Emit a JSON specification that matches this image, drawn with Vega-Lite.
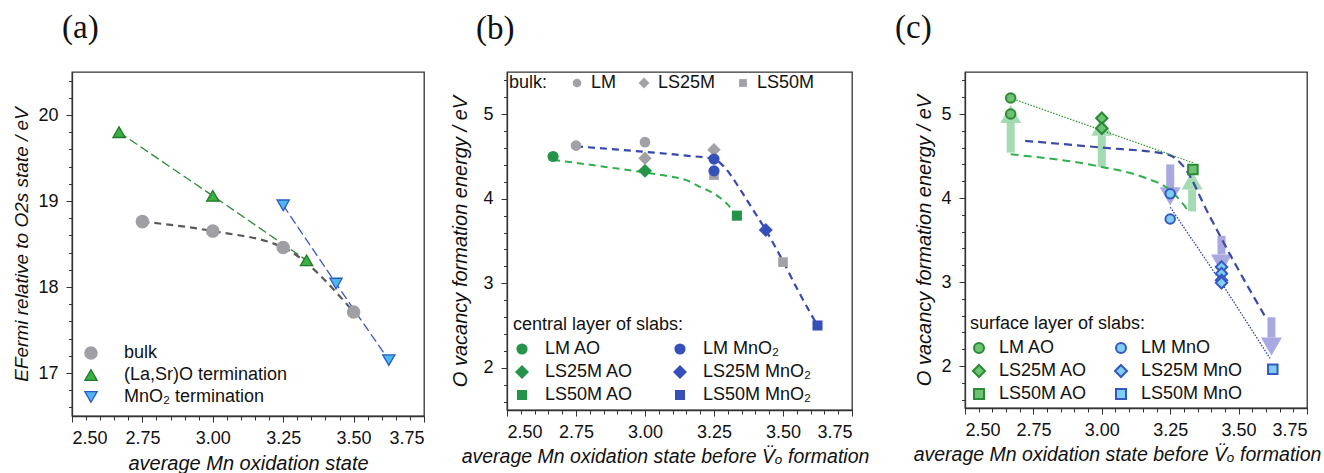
{
  "$schema": "https://vega.github.io/schema/vega-lite/v6.json",
  "padding": {"left": 12, "top": 11, "right": 5, "bottom": 3},
  "spacing": 24,
  "config": {
    "font": "Liberation Sans",
    "view": {"stroke": "#333333", "strokeWidth": 1.3},
    "axis": {"grid": false, "labelFontSize": 18, "labelColor": "#111111", "titleFontSize": 20, "titleFontStyle": "italic", "titleFontWeight": "normal", "titleColor": "#111111", "domainColor": "#333333", "domainWidth": 1.3, "tickColor": "#333333", "tickWidth": 1, "tickSize": 6},
    "legend": {"labelFontSize": 18, "titleFontSize": 18, "titleFontWeight": "normal", "labelColor": "#111111", "titleColor": "#111111", "titleLimit": 400, "labelLimit": 300},
    "title": {"font": "Liberation Serif", "fontSize": 33, "fontWeight": "normal", "anchor": "start", "color": "#111111", "frame": "group", "baseline": "alphabetic"}
  },
  "datasets": {
    "a": [
      {"x": 2.75, "y": 18.76, "series": "bulk"},
      {"x": 3.0, "y": 18.65, "series": "bulk"},
      {"x": 3.25, "y": 18.46, "series": "bulk"},
      {"x": 3.5, "y": 17.71, "series": "bulk"},
      {"x": 2.667, "y": 19.8, "series": "(La,Sr)O termination"},
      {"x": 3.0, "y": 19.06, "series": "(La,Sr)O termination"},
      {"x": 3.333, "y": 18.31, "series": "(La,Sr)O termination"},
      {"x": 3.25, "y": 18.95, "series": "MnO₂ termination"},
      {"x": 3.4375, "y": 18.04, "series": "MnO₂ termination"},
      {"x": 3.625, "y": 17.15, "series": "MnO₂ termination"}
    ],
    "b_bulk": [
      {"x": 2.75, "y": 4.63, "sample": "LM"},
      {"x": 3.0, "y": 4.67, "sample": "LM"},
      {"x": 3.0, "y": 4.48, "sample": "LS25M"},
      {"x": 3.25, "y": 4.58, "sample": "LS25M"},
      {"x": 3.25, "y": 4.28, "sample": "LS50M"},
      {"x": 3.5, "y": 3.25, "sample": "LS50M"}
    ],
    "b_slab": [
      {"x": 2.667, "y": 4.5, "series": "LM AO"},
      {"x": 3.0, "y": 4.33, "series": "LS25M AO"},
      {"x": 3.333, "y": 3.8, "series": "LS50M AO"},
      {"x": 3.25, "y": 4.47, "series": "LM MnO₂"},
      {"x": 3.25, "y": 4.33, "series": "LM MnO₂"},
      {"x": 3.4375, "y": 3.63, "series": "LS25M MnO₂"},
      {"x": 3.625, "y": 2.5, "series": "LS50M MnO₂"}
    ],
    "b_curve": [
      {"x": 2.667, "y": 4.46, "curve": "green"},
      {"x": 3.0, "y": 4.31, "curve": "green"},
      {"x": 3.08, "y": 4.27, "curve": "green"},
      {"x": 3.15, "y": 4.22, "curve": "green"},
      {"x": 3.2, "y": 4.14, "curve": "green"},
      {"x": 3.25, "y": 4.06, "curve": "green"},
      {"x": 3.3, "y": 3.93, "curve": "green"},
      {"x": 3.333, "y": 3.8, "curve": "green"},
      {"x": 2.75, "y": 4.62, "curve": "blue"},
      {"x": 3.0, "y": 4.555, "curve": "blue"},
      {"x": 3.15, "y": 4.51, "curve": "blue"},
      {"x": 3.25, "y": 4.47, "curve": "blue"},
      {"x": 3.286, "y": 4.38, "curve": "blue"},
      {"x": 3.347, "y": 4.1, "curve": "blue"},
      {"x": 3.395, "y": 3.85, "curve": "blue"},
      {"x": 3.4375, "y": 3.63, "curve": "blue"},
      {"x": 3.5, "y": 3.26, "curve": "blue"},
      {"x": 3.56, "y": 2.88, "curve": "blue"},
      {"x": 3.625, "y": 2.5, "curve": "blue"}
    ],
    "c_pts": [
      {"x": 2.667, "y": 5.19, "series": "LM AO"},
      {"x": 2.667, "y": 5.0, "series": "LM AO"},
      {"x": 3.0, "y": 4.95, "series": "LS25M AO"},
      {"x": 3.0, "y": 4.83, "series": "LS25M AO"},
      {"x": 3.333, "y": 4.34, "series": "LS50M AO"},
      {"x": 3.25, "y": 4.05, "series": "LM MnO"},
      {"x": 3.25, "y": 3.75, "series": "LM MnO"},
      {"x": 3.4375, "y": 3.18, "series": "LS25M MnO"},
      {"x": 3.4375, "y": 3.1, "series": "LS25M MnO"},
      {"x": 3.4375, "y": 3.02, "series": "LS25M MnO"},
      {"x": 3.4375, "y": 2.99, "series": "LS25M MnO"},
      {"x": 3.625, "y": 1.96, "series": "LS50M MnO"}
    ],
    "c_lines": [
      {"x": 2.667, "y": 4.52, "line": "green dashed"},
      {"x": 3.0, "y": 4.37, "line": "green dashed"},
      {"x": 3.15, "y": 4.25, "line": "green dashed"},
      {"x": 3.25, "y": 4.09, "line": "green dashed"},
      {"x": 3.297, "y": 3.93, "line": "green dashed"},
      {"x": 3.315, "y": 3.85, "line": "green dashed"},
      {"x": 2.72, "y": 4.68, "line": "blue dashed"},
      {"x": 3.0, "y": 4.6, "line": "blue dashed"},
      {"x": 3.24, "y": 4.52, "line": "blue dashed"},
      {"x": 3.3, "y": 4.37, "line": "blue dashed"},
      {"x": 3.39, "y": 3.81, "line": "blue dashed"},
      {"x": 3.48, "y": 3.26, "line": "blue dashed"},
      {"x": 3.595, "y": 2.6, "line": "blue dashed"},
      {"x": 2.667, "y": 5.19, "line": "green dotted"},
      {"x": 3.333, "y": 4.42, "line": "green dotted"},
      {"x": 3.25, "y": 3.89, "line": "blue dotted"},
      {"x": 3.4375, "y": 2.99, "line": "blue dotted"},
      {"x": 3.615, "y": 2.09, "line": "blue dotted"}
    ],
    "c_arrows": [
      {"x": 2.667, "tail": 4.54, "neck": 4.9, "head": 5.0, "dir": "up"},
      {"x": 3.0, "tail": 4.37, "neck": 4.74, "head": 4.85, "dir": "up"},
      {"x": 3.33, "tail": 3.84, "neck": 4.1, "head": 4.21, "dir": "up"},
      {"x": 3.25, "tail": 4.4, "neck": 4.12, "head": 4.02, "dir": "down"},
      {"x": 3.4375, "tail": 3.55, "neck": 3.33, "head": 3.22, "dir": "down"},
      {"x": 3.62, "tail": 2.58, "neck": 2.34, "head": 2.23, "dir": "down"}
    ]
  },
  "hconcat": [
    {
      "width": 352,
      "height": 344,
      "title": {"text": "(a)", "dx": -10, "offset": 27},
      "resolve": {"axis": {"x": "independent", "y": "independent"}, "scale": {"shape": "independent", "fill": "independent", "stroke": "independent"}},
      "layer": [
        {
          "data": {"name": "a"},
          "mark": {"type": "point", "opacity": 0},
          "encoding": {
            "x": {"field": "x", "type": "quantitative", "scale": {"domain": [2.5, 3.75], "nice": false, "zero": false}, "axis": {"orient": "bottom", "values": [2.5,2.55,2.6,2.65,2.7,2.75,2.8,2.85,2.9,2.95,3,3.05,3.1,3.15,3.2,3.25,3.3,3.35,3.4,3.45,3.5,3.55,3.6,3.65,3.7,3.75], "labels": false, "domain": false, "tickSize": 4, "title": null}},
            "y": {"field": "y", "type": "quantitative", "scale": {"domain": [16.5, 20.5], "nice": false, "zero": false}, "axis": {"orient": "left", "values": [16.6,16.8,17,17.2,17.4,17.6,17.8,18,18.2,18.4,18.6,18.8,19,19.2,19.4,19.6,19.8,20,20.2,20.4], "labels": false, "domain": false, "tickSize": 3.5, "title": null}}
          }
        },
        {
          "data": {"name": "a"},
          "transform": [{"filter": "datum.series === 'bulk'"}],
          "mark": {"type": "line", "color": "#5a5a5a", "strokeWidth": 2.2, "strokeDash": [7, 5], "interpolate": "monotone"},
          "encoding": {
            "x": {"field": "x", "type": "quantitative", "scale": {"domain": [2.5, 3.75], "nice": false, "zero": false}, "axis": null},
            "y": {"field": "y", "type": "quantitative", "scale": {"domain": [16.5, 20.5], "nice": false, "zero": false}, "axis": null}
          }
        },
        {
          "data": {"name": "a"},
          "transform": [{"filter": "datum.series === '(La,Sr)O termination'"}],
          "mark": {"type": "line", "color": "#2e8b3a", "strokeWidth": 1.3, "strokeDash": [9, 4]},
          "encoding": {
            "x": {"field": "x", "type": "quantitative", "scale": {"domain": [2.5, 3.75], "nice": false, "zero": false}, "axis": null},
            "y": {"field": "y", "type": "quantitative", "scale": {"domain": [16.5, 20.5], "nice": false, "zero": false}, "axis": null}
          }
        },
        {
          "data": {"name": "a"},
          "transform": [{"filter": "datum.series === 'MnO₂ termination'"}],
          "mark": {"type": "line", "color": "#3a58b8", "strokeWidth": 1.3, "strokeDash": [9, 4]},
          "encoding": {
            "x": {"field": "x", "type": "quantitative", "scale": {"domain": [2.5, 3.75], "nice": false, "zero": false}, "axis": null},
            "y": {"field": "y", "type": "quantitative", "scale": {"domain": [16.5, 20.5], "nice": false, "zero": false}, "axis": null}
          }
        },
        {
          "data": {"name": "a"},
          "mark": {"type": "point", "filled": true, "opacity": 1, "size": 150, "strokeWidth": 1.3},
          "encoding": {
            "x": {"field": "x", "type": "quantitative", "scale": {"domain": [2.5, 3.75], "nice": false, "zero": false}, "axis": {"orient": "bottom", "values": [2.5, 2.75, 3, 3.25, 3.5, 3.75], "format": ".2f", "labelPadding": 7, "titlePadding": 6, "title": "average Mn oxidation state"}},
            "y": {"field": "y", "type": "quantitative", "scale": {"domain": [16.5, 20.5], "nice": false, "zero": false}, "axis": {"orient": "left", "values": [17, 18, 19, 20], "format": "d", "labelPadding": 8, "titlePadding": 6, "title": "EFermi relative to O2s state / eV", "titleFontSize": 19}},
            "shape": {"field": "series", "type": "nominal", "scale": {"domain": ["bulk", "(La,Sr)O termination", "MnO₂ termination"], "range": ["circle", "triangle-up", "triangle-down"]}, "legend": {"orient": "bottom-left", "title": null, "offset": 10, "labelOffset": 24, "rowPadding": 4, "symbolSize": 150, "symbolStrokeWidth": 1.3}},
            "fill": {"field": "series", "type": "nominal", "scale": {"domain": ["bulk", "(La,Sr)O termination", "MnO₂ termination"], "range": ["#a0a0a4", "#3cb043", "#4db8ef"]}, "legend": {"orient": "bottom-left", "title": null, "offset": 10, "labelOffset": 24, "rowPadding": 4, "symbolSize": 150, "symbolStrokeWidth": 1.3}},
            "stroke": {"field": "series", "type": "nominal", "scale": {"domain": ["bulk", "(La,Sr)O termination", "MnO₂ termination"], "range": ["#a0a0a4", "#1e7a2a", "#2a5cbf"]}, "legend": {"orient": "bottom-left", "title": null, "offset": 10, "labelOffset": 24, "rowPadding": 4, "symbolSize": 150, "symbolStrokeWidth": 1.3}}
          }
        }
      ]
    },
    {
      "width": 345,
      "height": 338,
      "title": {"text": "(b)", "dx": -31, "offset": 26},
      "resolve": {"axis": {"x": "independent", "y": "independent"}, "scale": {"shape": "independent", "fill": "independent"}},
      "layer": [
        {
          "data": {"name": "b_slab"},
          "mark": {"type": "point", "opacity": 0},
          "encoding": {
            "x": {"field": "x", "type": "quantitative", "scale": {"domain": [2.5, 3.75], "nice": false, "zero": false}, "axis": {"orient": "bottom", "values": [2.5,2.55,2.6,2.65,2.7,2.75,2.8,2.85,2.9,2.95,3,3.05,3.1,3.15,3.2,3.25,3.3,3.35,3.4,3.45,3.5,3.55,3.6,3.65,3.7,3.75], "labels": false, "domain": false, "tickSize": 4, "title": null}},
            "y": {"field": "y", "type": "quantitative", "scale": {"domain": [1.5, 5.5], "nice": false, "zero": false}, "axis": {"orient": "left", "values": [1.6,1.8,2,2.2,2.4,2.6,2.8,3,3.2,3.4,3.6,3.8,4,4.2,4.4,4.6,4.8,5,5.2,5.4], "labels": false, "domain": false, "tickSize": 3.5, "title": null}}
          }
        },
        {
          "data": {"name": "b_curve"},
          "transform": [{"filter": "datum.curve === 'green'"}],
          "mark": {"type": "line", "color": "#2db04a", "strokeWidth": 2, "strokeDash": [7, 5], "interpolate": "monotone"},
          "encoding": {
            "x": {"field": "x", "type": "quantitative", "scale": {"domain": [2.5, 3.75], "nice": false, "zero": false}, "axis": null},
            "y": {"field": "y", "type": "quantitative", "scale": {"domain": [1.5, 5.5], "nice": false, "zero": false}, "axis": null}
          }
        },
        {
          "data": {"name": "b_curve"},
          "transform": [{"filter": "datum.curve === 'blue'"}],
          "mark": {"type": "line", "color": "#3448b0", "strokeWidth": 2.2, "strokeDash": [7, 5], "interpolate": "monotone"},
          "encoding": {
            "x": {"field": "x", "type": "quantitative", "scale": {"domain": [2.5, 3.75], "nice": false, "zero": false}, "axis": null},
            "y": {"field": "y", "type": "quantitative", "scale": {"domain": [1.5, 5.5], "nice": false, "zero": false}, "axis": null}
          }
        },
        {
          "data": {"name": "b_bulk"},
          "mark": {"type": "point", "filled": true, "opacity": 1, "color": "#a2a2a6", "size": 115},
          "encoding": {
            "x": {"field": "x", "type": "quantitative", "scale": {"domain": [2.5, 3.75], "nice": false, "zero": false}, "axis": null},
            "y": {"field": "y", "type": "quantitative", "scale": {"domain": [1.5, 5.5], "nice": false, "zero": false}, "axis": null},
            "shape": {"field": "sample", "type": "nominal", "scale": {"domain": ["LM", "LS25M", "LS50M"], "range": ["circle", "M-1.25,0L0,-1.25L1.25,0L0,1.25Z", "M-0.9,-0.9H0.9V0.9H-0.9Z"]}, "legend": {"orient": "top-left", "direction": "horizontal", "title": "bulk:", "titleOrient": "left", "titlePadding": 20, "offset": 2, "symbolFillColor": "#a2a2a6", "symbolStrokeColor": "#a2a2a6", "symbolSize": 75, "labelOffset": 5, "columnPadding": 18}}
          }
        },
        {
          "data": {"name": "b_slab"},
          "mark": {"type": "point", "filled": true, "opacity": 1, "size": 125},
          "encoding": {
            "x": {"field": "x", "type": "quantitative", "scale": {"domain": [2.5, 3.75], "nice": false, "zero": false}, "axis": {"orient": "bottom", "values": [2.5, 2.75, 3, 3.25, 3.5, 3.75], "format": ".2f", "labelPadding": 7, "titlePadding": 6, "title": "average Mn oxidation state before V̈ₒ formation", "titleX": 158, "titleAlign": "center", "titleFontSize": 19.5}},
            "y": {"field": "y", "type": "quantitative", "scale": {"domain": [1.5, 5.5], "nice": false, "zero": false}, "axis": {"orient": "left", "values": [2, 3, 4, 5], "format": "d", "labelPadding": 8, "titlePadding": 12, "title": "O vacancy formation energy / eV"}},
            "shape": {"field": "series", "type": "nominal", "scale": {"domain": ["LM AO", "LS25M AO", "LS50M AO", "LM MnO₂", "LS25M MnO₂", "LS50M MnO₂"], "range": ["circle", "M-1.25,0L0,-1.25L1.25,0L0,1.25Z", "M-0.9,-0.9H0.9V0.9H-0.9Z", "circle", "M-1.25,0L0,-1.25L1.25,0L0,1.25Z", "M-0.9,-0.9H0.9V0.9H-0.9Z"]}, "legend": {"orient": "bottom-left", "columns": 2, "title": "central layer of slabs:", "offset": 6, "labelOffset": 14, "columnPadding": 36, "rowPadding": 4, "titlePadding": 6, "symbolSize": 125}},
            "fill": {"field": "series", "type": "nominal", "scale": {"domain": ["LM AO", "LS25M AO", "LS50M AO", "LM MnO₂", "LS25M MnO₂", "LS50M MnO₂"], "range": ["#24944a", "#24944a", "#24944a", "#3550b8", "#3550b8", "#3550b8"]}, "legend": {"orient": "bottom-left", "columns": 2, "title": "central layer of slabs:", "offset": 6, "labelOffset": 14, "columnPadding": 36, "rowPadding": 4, "titlePadding": 6, "symbolSize": 125}}
          }
        }
      ]
    },
    {
      "width": 342,
      "height": 336,
      "title": {"text": "(c)", "dx": -70, "offset": 27},
      "resolve": {"axis": {"x": "independent", "y": "independent"}, "scale": {"shape": "independent", "fill": "independent", "stroke": "independent", "color": "independent"}},
      "layer": [
        {
          "data": {"name": "c_pts"},
          "mark": {"type": "point", "opacity": 0},
          "encoding": {
            "x": {"field": "x", "type": "quantitative", "scale": {"domain": [2.5, 3.75], "nice": false, "zero": false}, "axis": {"orient": "bottom", "values": [2.5,2.55,2.6,2.65,2.7,2.75,2.8,2.85,2.9,2.95,3,3.05,3.1,3.15,3.2,3.25,3.3,3.35,3.4,3.45,3.5,3.55,3.6,3.65,3.7,3.75], "labels": false, "domain": false, "tickSize": 4, "title": null}},
            "y": {"field": "y", "type": "quantitative", "scale": {"domain": [1.5, 5.5], "nice": false, "zero": false}, "axis": {"orient": "left", "values": [1.6,1.8,2,2.2,2.4,2.6,2.8,3,3.2,3.4,3.6,3.8,4,4.2,4.4,4.6,4.8,5,5.2,5.4], "labels": false, "domain": false, "tickSize": 3.5, "title": null}}
          }
        },
        {
          "data": {"name": "c_arrows"},
          "mark": {"type": "rule", "strokeWidth": 8, "opacity": 0.75},
          "encoding": {
            "x": {"field": "x", "type": "quantitative", "scale": {"domain": [2.5, 3.75], "nice": false, "zero": false}, "axis": null},
            "y": {"field": "tail", "type": "quantitative", "scale": {"domain": [1.5, 5.5], "nice": false, "zero": false}, "axis": null},
            "y2": {"field": "neck"},
            "color": {"field": "dir", "type": "nominal", "scale": {"domain": ["up", "down"], "range": ["#86cf98", "#8c8cd8"]}, "legend": null}
          }
        },
        {
          "data": {"name": "c_arrows"},
          "mark": {"type": "point", "filled": true, "opacity": 0.75, "size": 440, "strokeWidth": 0},
          "encoding": {
            "x": {"field": "x", "type": "quantitative", "scale": {"domain": [2.5, 3.75], "nice": false, "zero": false}, "axis": null},
            "y": {"field": "head", "type": "quantitative", "scale": {"domain": [1.5, 5.5], "nice": false, "zero": false}, "axis": null},
            "shape": {"field": "dir", "type": "nominal", "scale": {"domain": ["up", "down"], "range": ["triangle-up", "triangle-down"]}, "legend": null},
            "color": {"field": "dir", "type": "nominal", "scale": {"domain": ["up", "down"], "range": ["#86cf98", "#8c8cd8"]}, "legend": null}
          }
        },
        {
          "data": {"name": "c_lines"},
          "transform": [{"filter": "datum.line === 'green dashed'"}],
          "mark": {"type": "line", "color": "#30b050", "strokeWidth": 2, "strokeDash": [8, 5], "interpolate": "monotone"},
          "encoding": {
            "x": {"field": "x", "type": "quantitative", "scale": {"domain": [2.5, 3.75], "nice": false, "zero": false}, "axis": null},
            "y": {"field": "y", "type": "quantitative", "scale": {"domain": [1.5, 5.5], "nice": false, "zero": false}, "axis": null}
          }
        },
        {
          "data": {"name": "c_lines"},
          "transform": [{"filter": "datum.line === 'blue dashed'"}],
          "mark": {"type": "line", "color": "#3a4aa8", "strokeWidth": 2.2, "strokeDash": [8, 5], "interpolate": "monotone"},
          "encoding": {
            "x": {"field": "x", "type": "quantitative", "scale": {"domain": [2.5, 3.75], "nice": false, "zero": false}, "axis": null},
            "y": {"field": "y", "type": "quantitative", "scale": {"domain": [1.5, 5.5], "nice": false, "zero": false}, "axis": null}
          }
        },
        {
          "data": {"name": "c_lines"},
          "transform": [{"filter": "datum.line === 'green dotted'"}],
          "mark": {"type": "line", "color": "#3a9a3a", "strokeWidth": 1.3, "strokeDash": [1.5, 1.5]},
          "encoding": {
            "x": {"field": "x", "type": "quantitative", "scale": {"domain": [2.5, 3.75], "nice": false, "zero": false}, "axis": null},
            "y": {"field": "y", "type": "quantitative", "scale": {"domain": [1.5, 5.5], "nice": false, "zero": false}, "axis": null}
          }
        },
        {
          "data": {"name": "c_lines"},
          "transform": [{"filter": "datum.line === 'blue dotted'"}],
          "mark": {"type": "line", "color": "#3040a8", "strokeWidth": 1.3, "strokeDash": [1.5, 1.5]},
          "encoding": {
            "x": {"field": "x", "type": "quantitative", "scale": {"domain": [2.5, 3.75], "nice": false, "zero": false}, "axis": null},
            "y": {"field": "y", "type": "quantitative", "scale": {"domain": [1.5, 5.5], "nice": false, "zero": false}, "axis": null}
          }
        },
        {
          "data": {"name": "c_pts"},
          "mark": {"type": "point", "filled": true, "opacity": 1, "size": 90, "strokeWidth": 2},
          "encoding": {
            "x": {"field": "x", "type": "quantitative", "scale": {"domain": [2.5, 3.75], "nice": false, "zero": false}, "axis": {"orient": "bottom", "values": [2.5, 2.75, 3, 3.25, 3.5, 3.75], "format": ".2f", "labelPadding": 7, "titlePadding": 6, "title": "average Mn oxidation state before V̈ₒ formation", "titleX": 152, "titleAlign": "center", "titleFontSize": 19.5}},
            "y": {"field": "y", "type": "quantitative", "scale": {"domain": [1.5, 5.5], "nice": false, "zero": false}, "axis": {"orient": "left", "values": [2, 3, 4, 5], "format": "d", "labelPadding": 8, "titlePadding": 6, "title": "O vacancy formation energy / eV"}},
            "shape": {"field": "series", "type": "nominal", "scale": {"domain": ["LM AO", "LS25M AO", "LS50M AO", "LM MnO", "LS25M MnO", "LS50M MnO"], "range": ["circle", "M-1.2,0L0,-1.2L1.2,0L0,1.2Z", "square", "circle", "M-1.2,0L0,-1.2L1.2,0L0,1.2Z", "square"]}, "legend": {"orient": "bottom-left", "columns": 2, "title": "surface layer of slabs:", "offset": 5, "labelOffset": 11, "columnPadding": 23, "rowPadding": 4, "titlePadding": 6, "symbolSize": 100, "symbolStrokeWidth": 2}},
            "fill": {"field": "series", "type": "nominal", "scale": {"domain": ["LM AO", "LS25M AO", "LS50M AO", "LM MnO", "LS25M MnO", "LS50M MnO"], "range": ["#6dc36f", "#6dc36f", "#6dc36f", "#7fcdf2", "#7fcdf2", "#7fcdf2"]}, "legend": {"orient": "bottom-left", "columns": 2, "title": "surface layer of slabs:", "offset": 5, "labelOffset": 11, "columnPadding": 23, "rowPadding": 4, "titlePadding": 6, "symbolSize": 100, "symbolStrokeWidth": 2}},
            "stroke": {"field": "series", "type": "nominal", "scale": {"domain": ["LM AO", "LS25M AO", "LS50M AO", "LM MnO", "LS25M MnO", "LS50M MnO"], "range": ["#2b8a35", "#2b8a35", "#2b8a35", "#3558c0", "#3558c0", "#3558c0"]}, "legend": {"orient": "bottom-left", "columns": 2, "title": "surface layer of slabs:", "offset": 5, "labelOffset": 11, "columnPadding": 23, "rowPadding": 4, "titlePadding": 6, "symbolSize": 100, "symbolStrokeWidth": 2}}
          }
        }
      ]
    }
  ]
}
